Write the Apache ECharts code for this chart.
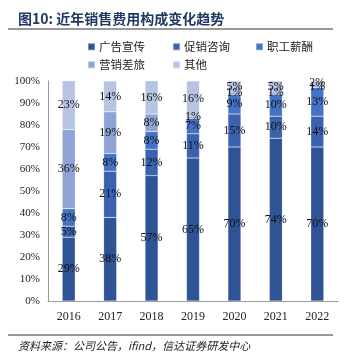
<!DOCTYPE html>
<html><head><meta charset="utf-8">
<script src="https://cdn.jsdelivr.net/npm/echarts@6/dist/echarts.min.js"></script>
<style>html,body{margin:0;padding:0;background:#fff}#c{width:350px;height:359px}</style>
</head><body><div id="c"></div>
<script>
const categories = ['2016','2017','2018','2019','2020','2021','2022'];
const seriesNames = ['广告宣传','促销咨询','职工薪酬','营销差旅','其他'];
const adv = [29,38,57,65,70,74,70];
const promo = [5,21,12,11,15,10,14];
const salary = [8,8,8,7,9,10,13];
const travel = [36,19,8,1,1,1,1];
const other = [23,14,16,16,5,5,2];
const yTicks = [0,10,20,30,40,50,60,70,80,90,100];
const colors = ['#2F5496','#3A62AE','#4472C4','#8FA3D6','#B7C3E2'];
const values = [adv,promo,salary,travel,other];
const legendPos = [[82,36],[167,36],[250,36],[82,54],[167,54]];

const chart = echarts.init(document.getElementById('c'), null, {renderer:'canvas'});
const serif = '"Liberation Serif","DejaVu Serif",serif';
chart.setOption({
  animation:false,
  graphic:[
    {type:'text', left:18, top:12, style:{text:'图10: 近年销售费用构成变化趋势', font:'bold 14px "Noto Sans CJK SC"', fill:'#1F3864'}},
    {type:'line', shape:{x1:8,y1:29,x2:333,y2:29}, style:{stroke:'#333',lineWidth:1}},
    {type:'line', shape:{x1:8,y1:335,x2:333,y2:335}, style:{stroke:'#333',lineWidth:1}},
    {type:'text', left:18, top:340, style:{text:'资料来源：公司公告，ifind，信达证券研发中心', font:'italic 11px "Noto Sans CJK SC"', fill:'#222'}}
  ],
  legend: seriesNames.map((n,i)=>({
    data:[n], left:legendPos[i][0], top:legendPos[i][1], itemWidth:7, itemHeight:7, itemGap:4,
    icon:'rect', textStyle:{fontSize:11.5, fontFamily:'"Noto Sans CJK SC"', color:'#222', padding:[0,0,0,-1]}
  })),
  grid:{left:48, right:12, top:81, bottom:58},
  xAxis:{type:'category', data:categories,
    axisLine:{lineStyle:{color:'#999'}}, axisTick:{show:false},
    axisLabel:{fontFamily:serif, fontSize:12, color:'#222', margin:10}},
  yAxis:{type:'value', min:0, max:100, interval:10,
    axisLine:{show:true, lineStyle:{color:'#999'}}, axisTick:{show:false},
    splitLine:{show:false},
    axisLabel:{fontFamily:serif, fontSize:11, color:'#222', formatter: v => yTicks.includes(v) ? v + '%' : ''}},
  series: seriesNames.map((n,i)=>({
    name:n, type:'bar', stack:'s', barWidth:13, data:values[i],
    itemStyle:{color:colors[i], borderColor:'rgba(255,255,255,0.35)', borderWidth:0.5},
    label:{show:true, position:'inside', formatter:p=>p.value+'%', fontFamily:serif, fontSize:12, color:'#111'}
  }))
});
</script></body></html>
